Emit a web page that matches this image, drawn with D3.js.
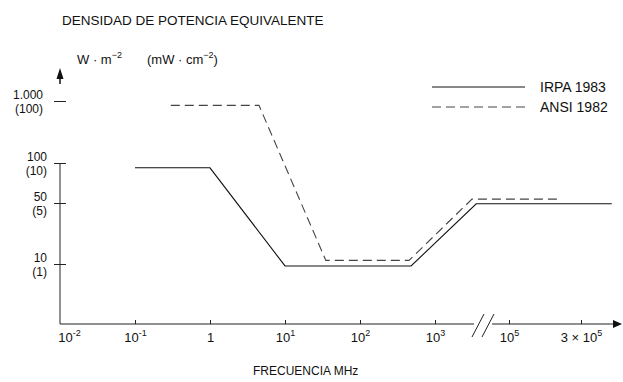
<!DOCTYPE html>
<html>
<head>
<meta charset="utf-8">
<script src="https://cdn.jsdelivr.net/npm/d3@7"></script>
<style>
  body { margin: 0; background: #fff; }
  svg { font-family: "Liberation Sans", Arial, sans-serif; fill: #111; }
</style>
</head>
<body>
<div id="wrapper"></div>
<script>
// values (MHz, W/m2)
const irpaFreq = [0.1, 1, 10, 480, 13000, 480000];
const irpaDens = [92, 92, 9.5, 9.5, 49, 49];
const ansiFreq = [0.3, 4.5, 35, 450, 10000, 210000];
const ansiDens = [850, 850, 11, 11, 53.5, 53.5];

const seriesNames = ['IRPA 1983', 'ANSI 1982'];

const yTickVals = [10, 50, 100, 1000];
const yTickLabels = ['10', '50', '100', '1.000'];
const yTickSubLabels = ['(1)', '(5)', '(10)', '(100)'];

const xTickVals = [0.01, 0.1, 1, 10, 100, 1000, 1e5, 3e5];
const xTickBase = ['10', '10', '1', '10', '10', '10', '10', '3 \u00d7 10'];
const xTickExp = ['-2', '-1', '', '1', '2', '3', '5', '5'];

let width = 623, height = 382;

let svg = d3.select('#wrapper').append('svg')
    .attr('width', width)
    .attr('height', height);

// hand drawn axes: piecewise log scales, with a break between 10^3 and 10^5
let xScale = d3.scaleLog().domain([0.01, 1000, 1e5, 3e5]).range([60, 435, 509, 581]);
let yScale = d3.scaleLog().domain([10, 50, 100, 1000]).range([264, 203, 163, 101]);

let x0 = xScale(0.01), axisY = 324;

svg.append('text').text('DENSIDAD DE POTENCIA EQUIVALENTE')
    .attr('x', 62).attr('y', 25)
    .style('font-size', '13.5px');

// y units
let unitA = svg.append('text').attr('x', 77).attr('y', 64).style('font-size', '13px');
unitA.append('tspan').text('W \u00b7 m');
unitA.append('tspan').text('\u22122').attr('dy', -6).style('font-size', '9px');
let unitB = svg.append('text').attr('x', 147).attr('y', 64).style('font-size', '13px');
unitB.append('tspan').text('(mW \u00b7 cm');
unitB.append('tspan').text('\u22122').attr('dy', -6).style('font-size', '9px');
unitB.append('tspan').text(')').attr('dy', 6);

// y axis
svg.append('path').attr('d', `M${x0 - 3.5},79 L${x0},68 L${x0 + 3.5},79 Z`).attr('fill', '#111');
svg.append('line').attr('x1', x0).attr('x2', x0).attr('y1', 77).attr('y2', 84)
    .attr('stroke', '#111').attr('stroke-width', 1.5);
svg.append('line').attr('x1', x0).attr('x2', x0).attr('y1', yScale(100)).attr('y2', axisY)
    .attr('stroke', '#222').attr('stroke-width', 1);

let yAxis = svg.append('g').attr('transform', `translate(${x0},0)`)
    .call(d3.axisLeft(yScale).tickValues(yTickVals).tickSize(6).tickFormat(''));
yAxis.select('.domain').remove();
yAxis.selectAll('.tick line').attr('x1', -6).attr('x2', 6).attr('stroke', '#222');

let yLab = svg.selectAll('.ylab').data(yTickVals).enter().append('g').classed('ylab', true)
    .attr('transform', d => `translate(47,${yScale(d)})`);
yLab.append('text').text((d, i) => yTickLabels[i])
    .attr('text-anchor', 'end').attr('y', -2).attr('x', (d, i) => i == 3 ? -4 : 0)
    .style('font-size', '12px');
yLab.append('text').text((d, i) => yTickSubLabels[i])
    .attr('text-anchor', 'end').attr('y', 12).attr('x', (d, i) => i == 3 ? -4 : 0)
    .style('font-size', '12px');

// x axis
svg.append('line').attr('x1', x0).attr('x2', 615).attr('y1', axisY).attr('y2', axisY)
    .attr('stroke', '#222').attr('stroke-width', 1.2);
svg.append('path').attr('d', `M613,${axisY - 4} L622,${axisY} L613,${axisY + 4} Z`).attr('fill', '#111');
// axis break
svg.append('rect').attr('x', 474).attr('y', axisY - 2).attr('width', 18).attr('height', 4).attr('fill', '#fff');
[472, 482].forEach(bx => {
    svg.append('line').attr('x1', bx).attr('y1', axisY + 13).attr('x2', bx + 12).attr('y2', axisY - 10)
        .attr('stroke', '#222').attr('stroke-width', 1);
});

let xAxis = svg.append('g').attr('transform', `translate(0,${axisY})`)
    .call(d3.axisBottom(xScale).tickValues(xTickVals).tickSize(-4).tickPadding(9).tickFormat(''));
xAxis.select('.domain').remove();
xAxis.selectAll('.tick line').attr('stroke', (d, i) => i == 0 ? 'none' : '#222');
xAxis.selectAll('.tick text').each(function(d, i) {
    let t = d3.select(this).attr('x', i == 0 ? 9 : 0).style('font-size', '13px');
    t.append('tspan').text(xTickBase[i]);
    if (xTickExp[i]) t.append('tspan').text(xTickExp[i]).attr('dy', -6).style('font-size', '9px');
}).style('fill', '#111');
xAxis.attr('font-family', null).attr('font-size', null);

svg.append('text').text('FRECUENCIA MHz')
    .attr('x', 253).attr('y', 375)
    .style('font-size', '12px');

// curves
let lineGen = d3.line()
    .x(d => xScale(d[0]))
    .y(d => yScale(d[1]));

let irpa = irpaFreq.map((f, i) => [f, irpaDens[i]]);
let ansi = ansiFreq.map((f, i) => [f, ansiDens[i]]);

svg.append('path').datum(irpa).attr('d', lineGen)
    .attr('fill', 'none').attr('stroke', '#111').attr('stroke-width', 1.1);
svg.append('path').datum(ansi).attr('d', lineGen)
    .attr('fill', 'none').attr('stroke', '#444').attr('stroke-width', 1.1)
    .attr('stroke-dasharray', '9,5');

// legend
let legend = svg.append('g').classed('legend', true);
let legRows = legend.selectAll('g').data(seriesNames).enter().append('g')
    .attr('transform', (d, i) => `translate(432,${87 + i * 20})`);
legRows.append('line').attr('x1', 0).attr('x2', 93).attr('y1', 0).attr('y2', 0)
    .attr('stroke', (d, i) => i == 0 ? '#111' : '#444')
    .attr('stroke-dasharray', (d, i) => i == 0 ? null : '9,5');
legRows.append('text').text(d => d).attr('x', 108).attr('y', 5).style('font-size', '14px');
</script>
</body>
</html>
